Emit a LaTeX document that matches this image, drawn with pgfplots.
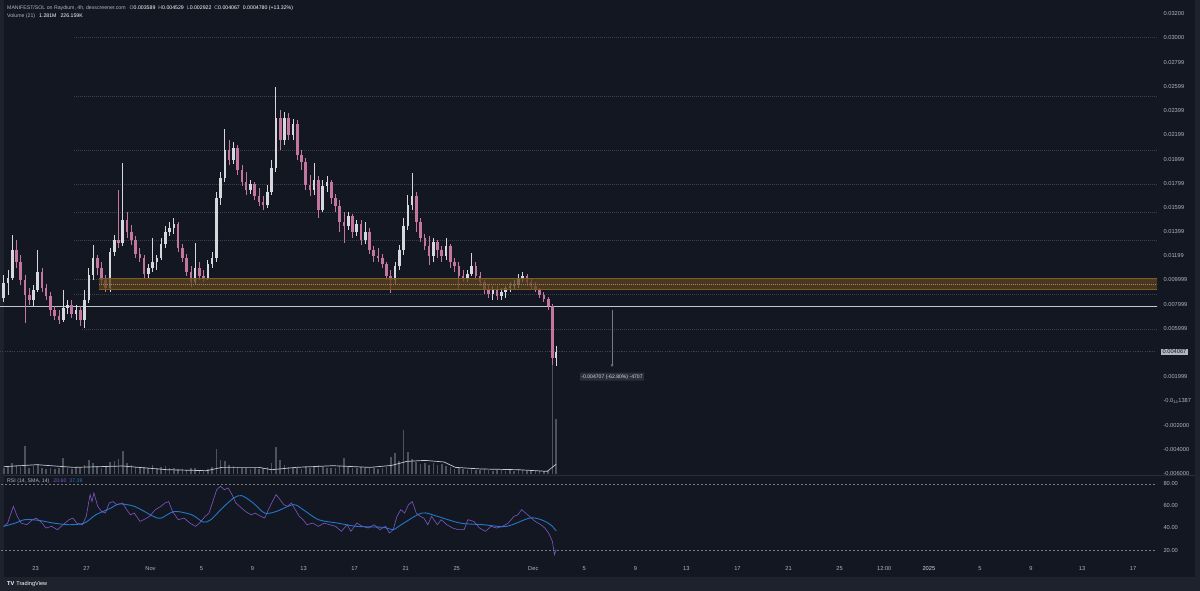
\documentclass[border=0pt]{standalone}
\usepackage{fontspec}
\setmainfont{Liberation Sans}
\usepackage{pgfplots}
\pgfplotsset{compat=1.18}
\usepackage{pgfplotstable}
\usetikzlibrary{arrows.meta}
\definecolor{bg}{HTML}{131722}
\definecolor{bg2}{HTML}{1E222D}
\definecolor{txt}{HTML}{B2B5BE}
\definecolor{upc}{HTML}{D6D8DE}
\definecolor{dnc}{RGB}{196,118,160}
\definecolor{gridc}{RGB}{60,64,74}
\definecolor{gridp}{RGB}{78,50,72}
\definecolor{volc}{RGB}{78,82,92}
\definecolor{mac}{HTML}{C8CAD0}
\definecolor{bandc}{RGB}{92,67,30}
\definecolor{bandedge}{RGB}{125,92,40}
\definecolor{banddash}{RGB}{170,135,80}
\definecolor{rsic}{HTML}{7E57C2}
\definecolor{smac}{RGB}{33,120,200}
\definecolor{sepc}{HTML}{2A2E39}
\definecolor{boxc}{HTML}{2A2E39}
\definecolor{lvl}{HTML}{C3C6CE}
\definecolor{arrc}{HTML}{787B86}

\pgfplotstableread{
d o h l c v
20.50 0.00851 0.01041 0.00818 0.00975 150
20.83 0.00975 0.01083 0.00876 0.01017 180
21.17 0.01017 0.01372 0.01000 0.01248 260
21.50 0.01248 0.01331 0.01099 0.01149 200
21.83 0.01149 0.01207 0.00959 0.01000 170
22.17 0.01000 0.01041 0.00645 0.00876 650
22.50 0.00876 0.00934 0.00793 0.00835 140
22.83 0.00835 0.00959 0.00785 0.00917 190
23.17 0.00917 0.01248 0.00901 0.01066 230
23.50 0.01066 0.01099 0.00901 0.00934 150
23.83 0.00934 0.00967 0.00835 0.00868 120
24.17 0.00868 0.00901 0.00703 0.00752 140
24.50 0.00752 0.00785 0.00670 0.00703 110
24.83 0.00703 0.00752 0.00637 0.00670 130
25.17 0.00670 0.00917 0.00653 0.00769 370
25.50 0.00769 0.00835 0.00719 0.00793 150
25.83 0.00793 0.00835 0.00686 0.00719 120
26.17 0.00719 0.00793 0.00670 0.00752 160
26.50 0.00752 0.00785 0.00620 0.00670 140
26.83 0.00670 0.00917 0.00604 0.00835 200
27.17 0.00835 0.01099 0.00810 0.01041 330
27.50 0.01041 0.01289 0.01000 0.01182 260
27.83 0.01182 0.01207 0.01041 0.01099 180
28.17 0.01099 0.01149 0.00959 0.01000 150
28.50 0.01000 0.01041 0.00901 0.00934 170
28.83 0.00934 0.01265 0.00901 0.01232 280
29.17 0.01232 0.01372 0.01198 0.01331 300
29.50 0.01331 0.01744 0.01265 0.01306 350
29.83 0.01306 0.01967 0.01281 0.01496 540
30.17 0.01496 0.01562 0.01347 0.01397 250
30.50 0.01397 0.01454 0.01289 0.01331 200
30.83 0.01331 0.01364 0.01182 0.01215 160
31.17 0.01215 0.01265 0.01149 0.01182 150
31.50 0.01182 0.01207 0.01017 0.01050 170
31.83 0.01050 0.01132 0.01017 0.01099 140
32.17 0.01099 0.01347 0.01066 0.01149 220
32.50 0.01149 0.01207 0.01083 0.01182 130
32.83 0.01182 0.01347 0.01165 0.01298 160
33.17 0.01298 0.01446 0.01265 0.01397 180
33.50 0.01397 0.01479 0.01364 0.01430 140
33.83 0.01430 0.01513 0.01380 0.01463 130
34.17 0.01463 0.01479 0.01232 0.01265 120
34.50 0.01265 0.01298 0.01149 0.01182 110
34.83 0.01182 0.01215 0.01033 0.01066 100
35.17 0.01066 0.01116 0.00942 0.00983 130
35.50 0.00983 0.01306 0.00967 0.01099 150
35.83 0.01099 0.01149 0.01000 0.01033 90
36.17 0.01033 0.01083 0.00983 0.01017 80
36.50 0.01017 0.01165 0.01000 0.01132 110
36.83 0.01132 0.01232 0.01099 0.01182 170
37.17 0.01182 0.01727 0.01149 0.01678 580
37.50 0.01678 0.01893 0.01620 0.01843 330
37.83 0.01843 0.02248 0.01810 0.02074 300
38.17 0.02074 0.02157 0.01950 0.01992 200
38.50 0.01992 0.02141 0.01959 0.02091 180
38.83 0.02091 0.02116 0.01868 0.01909 160
39.17 0.01909 0.01950 0.01777 0.01810 150
39.50 0.01810 0.01893 0.01703 0.01744 130
39.83 0.01744 0.01826 0.01711 0.01793 120
40.17 0.01793 0.01810 0.01661 0.01694 140
40.50 0.01694 0.01760 0.01612 0.01645 110
40.83 0.01645 0.01694 0.01579 0.01620 150
41.17 0.01620 0.01785 0.01595 0.01727 170
41.50 0.01727 0.01992 0.01703 0.01926 250
41.83 0.01926 0.02595 0.01893 0.02339 630
42.17 0.02339 0.02405 0.02074 0.02157 330
42.50 0.02157 0.02388 0.02116 0.02339 200
42.83 0.02339 0.02380 0.02157 0.02198 160
43.17 0.02198 0.02331 0.02157 0.02289 140
43.50 0.02289 0.02322 0.01992 0.02033 130
43.83 0.02033 0.02074 0.01909 0.01975 120
44.17 0.01975 0.02008 0.01744 0.01785 180
44.50 0.01785 0.01868 0.01694 0.01744 140
44.83 0.01744 0.01967 0.01703 0.01826 160
45.17 0.01826 0.01860 0.01513 0.01579 200
45.50 0.01579 0.01826 0.01562 0.01777 170
45.83 0.01777 0.01860 0.01727 0.01810 140
46.17 0.01810 0.01826 0.01628 0.01678 150
46.50 0.01678 0.01711 0.01562 0.01612 130
46.83 0.01612 0.01661 0.01397 0.01479 180
47.17 0.01479 0.01562 0.01306 0.01446 370
47.50 0.01446 0.01562 0.01413 0.01529 170
47.83 0.01529 0.01546 0.01347 0.01397 150
48.17 0.01397 0.01496 0.01364 0.01463 140
48.50 0.01463 0.01496 0.01289 0.01331 160
48.83 0.01331 0.01479 0.01298 0.01397 130
49.17 0.01397 0.01430 0.01215 0.01248 150
49.50 0.01248 0.01281 0.01149 0.01198 140
49.83 0.01198 0.01265 0.01149 0.01182 120
50.17 0.01182 0.01215 0.01099 0.01132 150
50.50 0.01132 0.01149 0.01000 0.01033 160
50.83 0.01033 0.01083 0.00893 0.01000 400
51.17 0.01000 0.01149 0.00967 0.01116 480
51.50 0.01116 0.01289 0.01083 0.01248 300
51.83 0.01248 0.01513 0.01207 0.01446 1020
52.17 0.01446 0.01703 0.01413 0.01620 510
52.50 0.01620 0.01884 0.01579 0.01694 350
52.83 0.01694 0.01727 0.01397 0.01479 280
53.17 0.01479 0.01513 0.01314 0.01347 240
53.50 0.01347 0.01380 0.01248 0.01281 260
53.83 0.01281 0.01364 0.01124 0.01198 220
54.17 0.01198 0.01347 0.01149 0.01314 250
54.50 0.01314 0.01331 0.01182 0.01248 200
54.83 0.01248 0.01281 0.01149 0.01198 230
55.17 0.01198 0.01347 0.01165 0.01281 180
55.50 0.01281 0.01298 0.01099 0.01149 160
55.83 0.01149 0.01182 0.01066 0.01116 120
56.17 0.01116 0.01149 0.00917 0.01033 150
56.50 0.01033 0.01083 0.00983 0.01017 110
56.83 0.01017 0.01083 0.00983 0.01050 100
57.17 0.01050 0.01223 0.01033 0.01116 150
57.50 0.01116 0.01149 0.01000 0.01033 100
57.83 0.01033 0.01066 0.00951 0.00983 90
58.17 0.00983 0.01000 0.00884 0.00917 110
58.50 0.00917 0.00967 0.00851 0.00884 90
58.83 0.00884 0.00951 0.00835 0.00917 80
59.17 0.00917 0.00951 0.00835 0.00868 100
59.50 0.00868 0.00934 0.00835 0.00901 90
59.83 0.00901 0.00951 0.00851 0.00934 80
60.17 0.00934 0.00983 0.00901 0.00951 90
60.50 0.00951 0.01000 0.00917 0.00967 70
60.83 0.00967 0.01050 0.00934 0.01017 120
61.17 0.01017 0.01066 0.00983 0.01033 90
61.50 0.01033 0.01050 0.00951 0.00983 80
61.83 0.00983 0.01017 0.00917 0.00951 70
62.17 0.00951 0.00983 0.00901 0.00917 60
62.50 0.00917 0.00934 0.00851 0.00876 80
62.83 0.00876 0.00901 0.00818 0.00843 60
63.17 0.00843 0.00860 0.00752 0.00785 90
63.50 0.00785 0.00802 0.00300 0.00359 2540
63.78 0.003589 0.004529 0.002922 0.004067 1281
}\candles

\pgfplotstableread{
d k
20.5 170
23.1 217
26.0 154
29.8 186
33.3 100
36.4 77
37.6 154
40.5 154
41.5 100
43.4 154
46.3 193
49.2 154
50.9 200
52.1 294
53.5 317
55.0 280
55.9 154
57.9 117
60.8 100
63.1 61
63.78 226
}\volma

\pgfplotstableread{
d r
20.50 41.5
20.81 44.5
21.26 59.7
21.56 50.6
21.86 44.5
22.31 43
22.76 47.6
23.06 49
23.51 44.5
23.81 40
24.26 41.5
24.71 38.5
25.16 43
25.62 47.6
25.92 49
26.22 44.5
26.67 43
26.97 50.6
27.27 70.3
27.42 64
27.57 71.8
27.87 59.7
28.17 55
28.47 53.6
28.77 62.7
29.07 64
29.37 61.2
29.83 62.7
30.13 56.7
30.43 52
30.73 53.6
31.18 46
31.48 47.6
31.93 50.6
32.38 56.7
32.83 59.7
33.13 62.7
33.43 64
33.73 55
34.18 47.6
34.64 49
35.09 44.5
35.54 41.5
35.84 44.5
36.29 50.6
36.59 53.6
36.89 64
37.19 74.8
37.49 77.9
37.79 74.8
38.09 76.4
38.39 70.3
38.69 62.7
38.99 59.7
39.45 55
39.90 52
40.20 53.6
40.65 50.6
40.95 49
41.25 56.7
41.55 64
41.85 70.3
42.15 65.8
42.45 61.2
42.75 59.7
43.05 62.7
43.35 56.7
43.66 50.6
43.96 47.6
44.26 43
44.71 44.5
45.16 41.5
45.61 44.5
46.06 43
46.51 41.5
46.96 37
47.41 43
47.71 37
48.17 44.5
48.62 41.5
49.07 40
49.52 43
49.97 38.5
50.42 41.5
50.72 35.5
51.02 38.5
51.32 50.6
51.62 56.7
51.92 53.6
52.22 61.2
52.52 64
52.83 53.6
53.13 50.6
53.43 49
53.73 43
54.03 50.6
54.48 43
54.78 47.6
55.23 43
55.68 40
56.13 38.5
56.58 38.5
56.88 47.6
57.34 46
57.79 40
58.24 37
58.69 41.5
59.14 40
59.59 41.5
60.04 44.5
60.49 50.6
60.79 52
61.09 56.7
61.39 53.6
61.70 50.6
62.15 46
62.60 43
62.90 40
63.20 35.5
63.50 27.9
63.65 15.8
63.80 20.6
}\rsitab

\pgfplotstableread{
d s
20.50 41.5
21.41 44.5
22.16 47.6
23.21 47
24.41 44.5
25.62 43
26.82 44.5
27.72 52
28.92 58.2
29.52 61.8
30.73 59.7
32.23 50.6
32.83 49
33.88 55
35.24 52
36.14 45.4
36.74 47.6
37.64 58.2
38.54 67.3
39.15 69.4
40.05 62.7
40.95 53.6
41.85 55
43.20 61.2
43.96 56.7
45.16 47.6
46.66 44.5
48.17 41.5
50.27 40.6
51.02 38.5
51.77 43.9
53.28 53.6
54.48 50.6
56.28 44.5
58.09 43
59.89 41.5
61.70 49
62.60 47.6
63.35 43
63.80 37.4
}\smatab

\pgfplotsset{
  tvaxis/.style={scale only axis, anchor=south west, width=1157pt,
    xmin=20.21, xmax=110.88, axis line style={draw=none},
    major tick length=0pt, minor tick num=0, scaled y ticks=false,
    tick label style={text=txt, font=\fontsize{5.7}{6}\selectfont}},
  candle/.style={only marks, mark size=0pt, mark options={draw=none, fill=none}},
}

\begin{document}
\begin{tikzpicture}[font=\fontsize{5.2}{6}\selectfont]
\useasboundingbox (0,0) rectangle (1200pt,591pt);
\fill[bg2] (0,0) rectangle (1200pt,591pt);
\fill[bg] (4pt,14pt) rectangle (1195pt,591pt);

% volume (overlay in price pane)
\begin{axis}[tvaxis, at={(0pt,117pt)}, height=120pt, ymin=0, ymax=2796,
  xtick=\empty, ytick=\empty]
\addplot[ycomb, volc, line width=1.6pt] table[x=d, y=v]{\candles};
\addplot[mac, line width=0.7pt] table[x=d, y=k]{\volma};
\end{axis}

% price pane
\begin{axis}[tvaxis, at={(0pt,116pt)}, height=475pt,
  ymin=-0.006116, ymax=0.033140, xtick=\empty,
  yticklabel pos=right,
  ytick={0.032,0.030,0.02799,0.02599,0.02399,0.02199,0.01999,0.01799,0.01599,0.01399,0.01199,0.009999,0.007999,0.005999,0.001999,0,-0.002,-0.004,-0.006},
  yticklabels={0.03200,0.03000,0.02799,0.02599,0.02399,0.02199,0.01999,0.01799,0.01599,0.01399,0.01199,0.009999,0.007999,0.005999,0.001999,{-0.0\textsubscript{14}1387},-0.002000,-0.004000,-0.006000},
  yticklabel style={anchor=west, xshift=3pt}]
% drawn horizontal levels
\addplot[gridp, line width=0.6pt, dash pattern=on 1.2pt off 0.8pt] coordinates {(25.97,0.030025) (112,0.030025)};
\addplot[gridc, line width=0.6pt, dash pattern=on 1.2pt off 0.8pt] coordinates {(25.97,0.025207) (112,0.025207)};
\addplot[gridc, line width=0.6pt, dash pattern=on 1.2pt off 0.8pt] coordinates {(25.97,0.020686) (112,0.020686)};
\addplot[gridc, line width=0.6pt, dash pattern=on 1.2pt off 0.8pt] coordinates {(25.97,0.017876) (112,0.017876)};
\addplot[gridc, line width=0.6pt, dash pattern=on 1.2pt off 0.8pt] coordinates {(25.97,0.015595) (112,0.015595)};
\addplot[gridc, line width=0.6pt, dash pattern=on 1.2pt off 0.8pt] coordinates {(25.97,0.013281) (112,0.013281)};
\addplot[gridc, line width=0.6pt, dash pattern=on 1.2pt off 0.8pt] coordinates {(25.97,0.010083) (112,0.010083)};
\addplot[gridc, line width=0.6pt, dash pattern=on 1.2pt off 0.8pt] coordinates {(25.97,0.008818) (112,0.008818)};
\addplot[gridc, line width=0.6pt, dash pattern=on 1.2pt off 0.8pt] coordinates {(26.64,0.005950) (112,0.005950)};
\addplot[gridc, line width=0.6pt, dash pattern=on 1.2pt off 1.2pt] coordinates {(20,0.004067) (112,0.004067)};
\addplot[lvl, line width=0.9pt] coordinates {(20,0.007851) (112,0.007851)};
% candles: wicks
\addplot[candle, restrict expr to domain={\thisrow{c}-\thisrow{o}}{0:1},
  error bars/.cd, y dir=both, y explicit, error mark=none,
  error bar style={line width=0.8pt, draw=upc}]
  table[x=d, y expr={(\thisrow{h}+\thisrow{l})/2}, y error expr={(\thisrow{h}-\thisrow{l})/2}]{\candles};
\addplot[candle, restrict expr to domain={\thisrow{c}-\thisrow{o}}{-1:0},
  error bars/.cd, y dir=both, y explicit, error mark=none,
  error bar style={line width=0.8pt, draw=dnc}]
  table[x=d, y expr={(\thisrow{h}+\thisrow{l})/2}, y error expr={(\thisrow{h}-\thisrow{l})/2}]{\candles};
% candles: bodies
\addplot[candle, restrict expr to domain={\thisrow{c}-\thisrow{o}}{0:1},
  error bars/.cd, y dir=both, y explicit, error mark=none,
  error bar style={line width=2.6pt, draw=upc, line cap=butt}]
  table[x=d, y expr={(\thisrow{o}+\thisrow{c})/2}, y error expr={abs(\thisrow{c}-\thisrow{o})/2}]{\candles};
\addplot[candle, restrict expr to domain={\thisrow{c}-\thisrow{o}}{-1:0},
  error bars/.cd, y dir=both, y explicit, error mark=none,
  error bar style={line width=2.6pt, draw=dnc, line cap=butt}]
  table[x=d, y expr={(\thisrow{o}+\thisrow{c})/2}, y error expr={abs(\thisrow{c}-\thisrow{o})/2}]{\candles};
% support band
\addplot[draw=none, fill=bandc, fill opacity=0.75] coordinates {(27.99,0.009231) (112,0.009231) (112,0.010140) (27.99,0.010140)} -- cycle;
\addplot[bandedge, line width=0.5pt] coordinates {(27.99,0.010140) (112,0.010140)};
\addplot[bandedge, line width=0.5pt] coordinates {(27.99,0.009231) (112,0.009231)};
\addplot[banddash, line width=0.4pt, dash pattern=on 1pt off 1pt] coordinates {(27.99,0.009645) (112,0.009645)};
% measure arrow
\addplot[arrc, line width=0.8pt, -{Stealth[length=3pt,width=2.5pt]}] coordinates {(68.17,0.00752) (68.17,0.00281)};
\node[fill=boxc, text=upc, inner sep=1.6pt, rounded corners=1pt, font=\fontsize{5.1}{6}\selectfont] at (axis cs:68.17,0.002008) {-0.004707 (-62.80\%) -4707};
\end{axis}

% pane separator and label cut
\fill[bg] (1158pt,108pt) rectangle (1195pt,115.6pt);
\draw[sepc, line width=0.8pt] (4pt,116pt) -- (1195pt,116pt);

% RSI pane
\begin{axis}[tvaxis, at={(0pt,31pt)}, height=83pt, ymin=11, ymax=86.3,
  ytick={20,40,60,80}, yticklabels={20.00,40.00,60.00,80.00},
  yticklabel pos=right, yticklabel style={anchor=west, xshift=3pt},
  xtick={23,27,32,36,40,44,48,52,56,62,66,70,74,78,82,86,89.5,93,97,101,105,109},
  xticklabels={23,27,Nov,5,9,13,17,21,25,Dec,5,9,13,17,21,25,12:00,{\color{upc}2025},5,9,13,17},
  xticklabel style={anchor=center, yshift=-9pt}]
\addplot[arrc, line width=0.5pt, dash pattern=on 2pt off 2pt] coordinates {(20,80) (112,80)};
\addplot[arrc, line width=0.5pt, dash pattern=on 2pt off 2pt] coordinates {(20,20) (112,20)};
\addplot[smac, line width=0.9pt, smooth] table[x=d, y=s]{\smatab};
\addplot[rsic, line width=0.6pt] table[x=d, y=r]{\rsitab};
\end{axis}

% current price label
\node[anchor=west, fill=txt, text=bg, inner sep=1.4pt, font=\fontsize{5.7}{6}\selectfont] at (1161pt,239pt) {0.004067};

% header
\node[anchor=west, text=txt, inner sep=0pt] at (7pt,583pt) {MANIFEST/SOL on Raydium, 4h, dexscreener.com\hspace{4pt}O{\color{white}0.003589}\hspace{3pt}H{\color{white}0.004529}\hspace{3pt}L{\color{white}0.002922}\hspace{3pt}C{\color{white}0.004067}\hspace{3pt}{\color{white}0.0004780 (+13.32\%)}};
\node[anchor=west, text=txt, inner sep=0pt] at (7pt,575pt) {Volume (21)\hspace{4pt}{\color{white}1.281M}\hspace{4pt}{\color{white}226.159K}};
\node[anchor=west, text=txt, inner sep=0pt] at (7pt,110pt) {RSI (14, SMA, 14)\hspace{4pt}{\color{rsic}20.60}\hspace{3pt}{\color{smac}37.39}};
\node[anchor=west, text=white, inner sep=0pt, font=\fontsize{5.6}{6}\selectfont] at (7pt,7pt) {\textbf{TV}\hspace{2pt}TradingView};
\end{tikzpicture}
\end{document}
